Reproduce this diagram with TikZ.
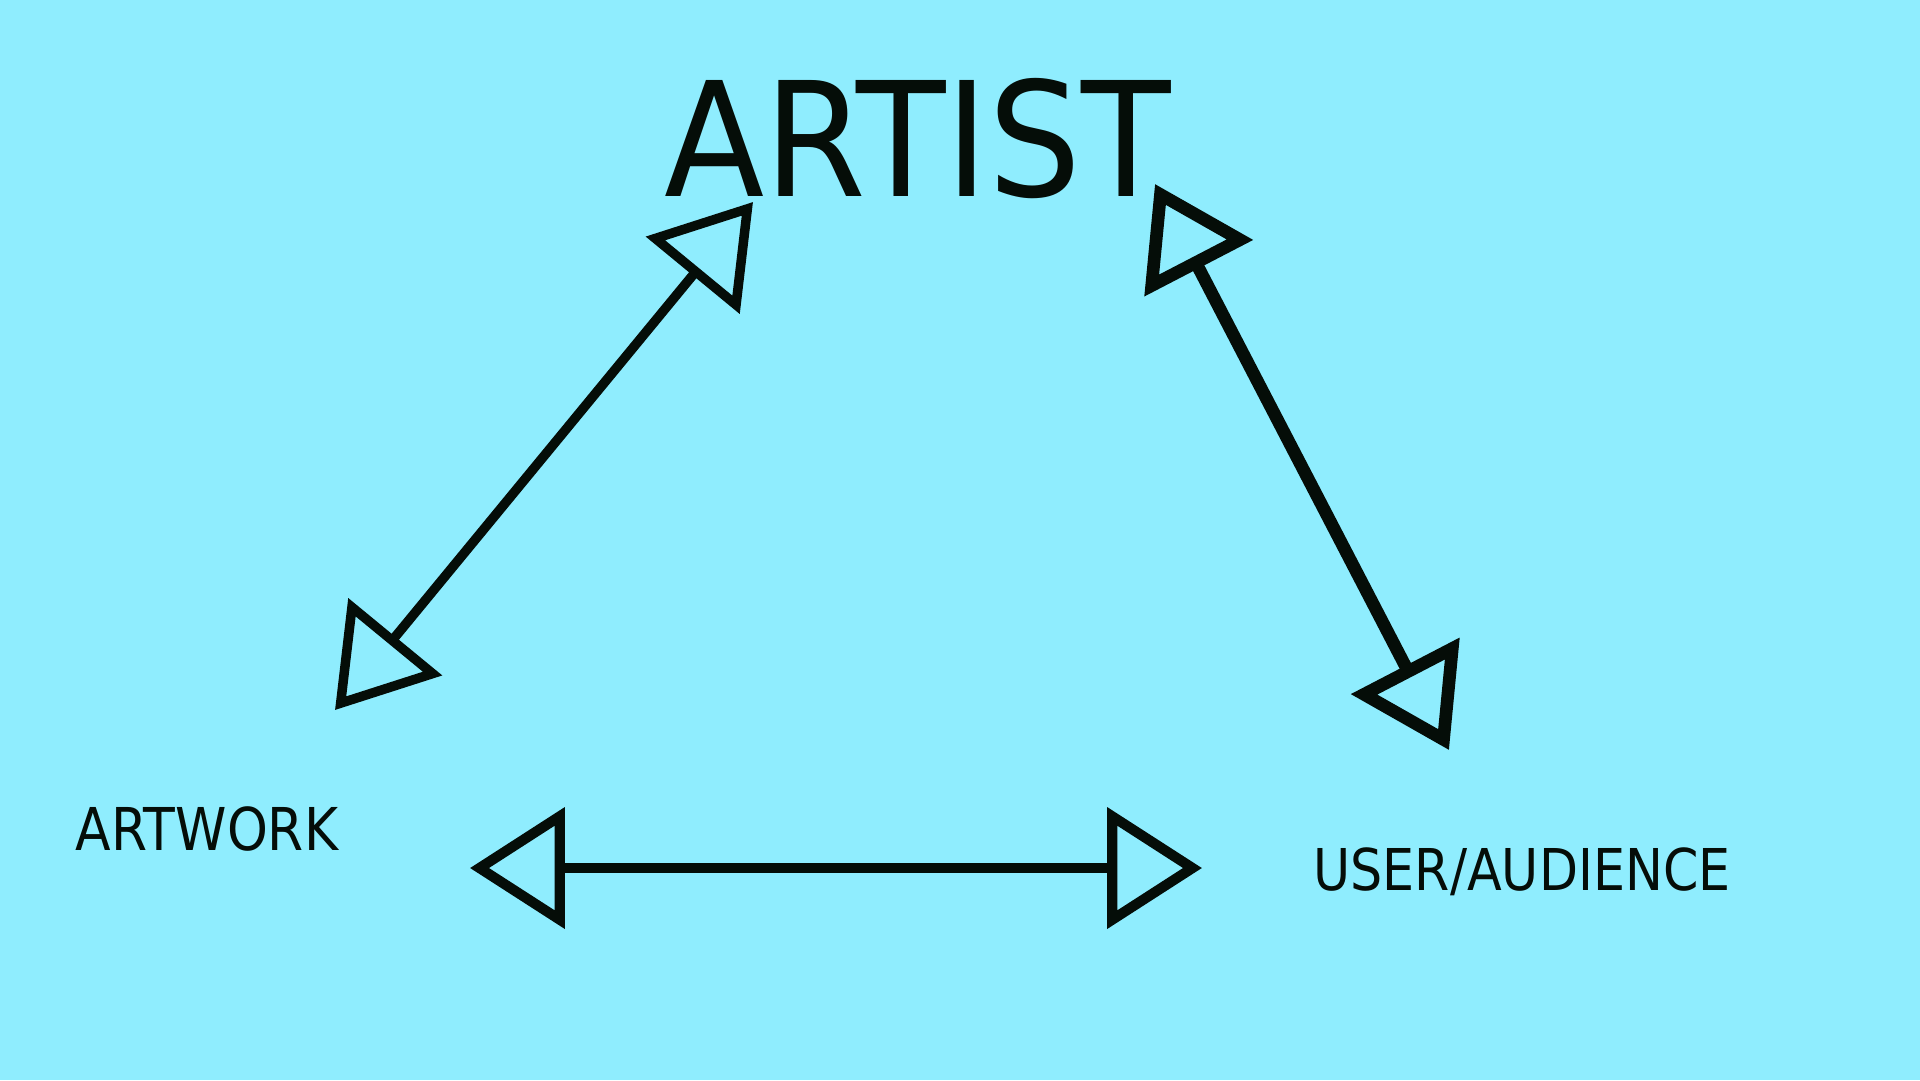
\documentclass[tikz,border=0pt]{standalone}
\usepackage{fontspec}
\usepackage{xcolor}
\usetikzlibrary{arrows.meta,positioning}
\newfontfamily\artistfont[FakeStretch=0.92]{DejaVu Sans}
\newfontfamily\artworkfont[FakeStretch=0.88]{DejaVu Sans}
\newfontfamily\userfont[FakeStretch=0.88]{DejaVu Sans}
\definecolor{Sky}{HTML}{8FEDFE}
\definecolor{Ink}{HTML}{050D08}
\tikzset{
  label/.style={inner sep=0pt, text=Ink, anchor=base},
  link/.style={draw=Ink, line width=#1,
    {Triangle[open,length=27pt,width=34pt]}-{Triangle[open,length=27pt,width=34pt]}},
  link/.default=2.7pt
}

\begin{document}
\begin{tikzpicture}[x=0.1mm, y=-0.1mm]
  \fill[Sky] (0,0) rectangle (1920,1080);
  \useasboundingbox (0,0) rectangle (1920,1080);

  \node[label, font=\artistfont\fontsize{45.3pt}{50pt}\selectfont] (artist) at (918,196) {ARTIST};
  \node[label, font=\artworkfont\fontsize{16.8pt}{20pt}\selectfont] (artwork) at (207,850) {ARTWORK};
  \node[label, font=\userfont\fontsize{16.4pt}{20pt}\selectfont] (user) at (1522,890) {USER/AUDIENCE};

  % arrow ends
  \coordinate (artistL) at (753,202);
  \coordinate (artworkT) at (335,710);
  \coordinate (artistR) at (1155,184);
  \coordinate (userT) at (1449,750);
  \coordinate (artworkR) at (470,868);
  \coordinate (userL) at (1202,868);

  \draw[link] (artworkT) -- (artistL);
  \draw[link=3.6pt] (artistR) -- (userT);
  \draw[link=2.9pt] (artworkR) -- (userL);
\end{tikzpicture}
\end{document}
